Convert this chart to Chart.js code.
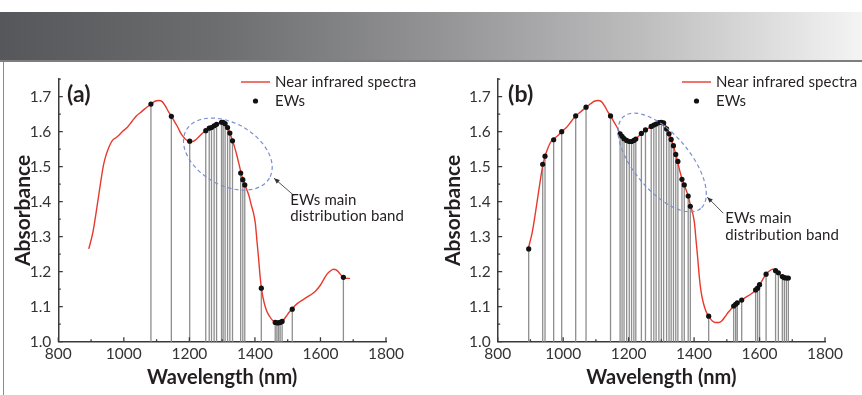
<!DOCTYPE html>
<html>
<head>
<meta charset="utf-8">
<script src="https://cdn.jsdelivr.net/npm/chart.js@4.4.1/dist/chart.umd.min.js"></script>
<style>
  html, body { margin: 0; padding: 0; background: #fff; width: 862px; height: 395px; overflow: hidden; }
  #band { position: absolute; left: 0; top: 12px; width: 862px; height: 48px;
          background: linear-gradient(to right, #56575a 0%, #6c6d6f 25%, #929294 50%, #bebebf 75%, #f4f4f4 100%);
          border-bottom: 2px solid #7e7e80; }
  #frame { position: absolute; left: 3px; top: 62px; width: 1px; height: 333px; background: #8a8a8a; }
  .panel { position: absolute; top: 62px; height: 333px; }
</style>
</head>
<body>
<div id="band"></div>
<div id="frame"></div>
<div class="panel" style="left:0;width:430px"><canvas id="chartA" width="430" height="333"></canvas></div>
<div class="panel" style="left:430px;width:432px"><canvas id="chartB" width="432" height="333"></canvas></div>

<script>
// Mean near infrared spectrum (wavelength in nm, absorbance)
const wavelength = [893, 905, 918, 930, 938, 945, 952, 960, 966, 975, 985, 995, 1010, 1025, 1038, 1055, 1070,
  1083, 1095, 1107, 1117, 1127, 1137, 1145, 1155, 1165, 1174, 1182, 1190, 1200, 1210, 1218, 1226, 1239,
  1252, 1268, 1283, 1293, 1300, 1307, 1313, 1319, 1326, 1332, 1338, 1345, 1352, 1358, 1364, 1370, 1377,
  1383, 1389, 1395, 1401, 1406, 1411, 1416, 1421, 1428, 1436, 1445, 1455, 1466, 1476, 1485, 1495, 1505,
  1514, 1522, 1532, 1545, 1560, 1575, 1588, 1600, 1610, 1620, 1630, 1640, 1648, 1656, 1664, 1672, 1680, 1690];
const absorbance = [1.265, 1.31, 1.385, 1.46, 1.505, 1.531, 1.55, 1.567, 1.576, 1.582, 1.59, 1.600, 1.612, 1.630,
  1.645, 1.658, 1.670, 1.679, 1.687, 1.689, 1.686, 1.673, 1.656, 1.645, 1.628, 1.612, 1.595, 1.585, 1.577,
  1.572, 1.572, 1.576, 1.583, 1.595, 1.605, 1.614, 1.621, 1.626, 1.628, 1.625, 1.618, 1.607, 1.590, 1.573,
  1.556, 1.532, 1.505, 1.482, 1.462, 1.447, 1.43, 1.413, 1.39, 1.37, 1.34, 1.29, 1.24, 1.185, 1.145, 1.112,
  1.088, 1.072, 1.060, 1.055, 1.055, 1.060, 1.072, 1.085, 1.094, 1.103, 1.111, 1.119, 1.128, 1.137, 1.148,
  1.162, 1.178, 1.193, 1.202, 1.207, 1.205, 1.198, 1.189, 1.183, 1.181, 1.181];

// Effective wavelengths selected by method (a)
const ewWavelengthA = [1082.7, 1145, 1201, 1250, 1260.5, 1267.5, 1275.5, 1283, 1298, 1303, 1309, 1316.5, 1323.5,
  1331.6, 1356.5, 1363, 1369, 1419.5, 1462, 1467, 1472, 1477, 1483, 1514, 1670];
const ewAbsorbanceA = [1.679, 1.644, 1.573, 1.603, 1.610, 1.612, 1.617, 1.621, 1.627, 1.627, 1.623, 1.612, 1.596,
  1.574, 1.482, 1.463, 1.448, 1.153, 1.055, 1.054, 1.054, 1.055, 1.058, 1.093, 1.184];

// Effective wavelengths selected by method (b)
const ewWavelengthB = [894.7, 937.5, 944.6, 971, 995.5, 1038.3, 1069.9, 1144.7, 1174, 1180, 1186, 1194, 1202, 1209,
  1216, 1222, 1239, 1251.5, 1269, 1277, 1284, 1292.5, 1300, 1307, 1316, 1323.5, 1330, 1337, 1344, 1350.5,
  1363, 1370, 1382, 1388.5, 1444.6, 1521, 1527, 1532, 1545.5, 1588, 1594, 1600, 1620, 1649, 1657.5, 1669.6,
  1675.8, 1682, 1688];
const ewAbsorbanceB = [1.265, 1.507, 1.530, 1.577, 1.600, 1.645, 1.670, 1.645, 1.594, 1.587, 1.580, 1.575, 1.572,
  1.572, 1.575, 1.579, 1.595, 1.605, 1.615, 1.619, 1.622, 1.626, 1.627, 1.625, 1.608, 1.594, 1.578, 1.560,
  1.535, 1.515, 1.464, 1.448, 1.416, 1.387, 1.073, 1.102, 1.107, 1.111, 1.119, 1.148, 1.153, 1.163, 1.193,
  1.203, 1.197, 1.186, 1.183, 1.182, 1.182];

// Axis ticks
const xTickValues = [800, 1000, 1200, 1400, 1600, 1800];
const xMinorTicks = [900, 1100, 1300, 1500, 1700];
const yTickValues = [1.0, 1.1, 1.2, 1.3, 1.4, 1.5, 1.6, 1.7];
const yMinorTicks = [1.05, 1.15, 1.25, 1.35, 1.45, 1.55, 1.65, 1.75];

const FONT = 'Lato, "Open Sans", "DejaVu Sans", sans-serif';
const INK = '#231f20';
const AXIS = '#3a3a3a';
const RED = '#e8392d';

function points(xs, ys) { return xs.map((v, i) => ({ x: v, y: ys[i] })); }

// Draws stems, inward ticks, the band ellipse, note, legend and panel letter
const decorations = {
  id: 'decorations',
  beforeDatasetsDraw(chart) {
    const { ctx, scales: { x, y } } = chart;
    const base = y.getPixelForValue(y.min);
    ctx.save();
    ctx.strokeStyle = '#8e8e8e';
    ctx.lineWidth = 1.3;
    ctx.beginPath();
    chart.data.datasets[1].data.forEach(p => {
      const px = x.getPixelForValue(p.x);
      ctx.moveTo(px, y.getPixelForValue(p.y));
      ctx.lineTo(px, base);
    });
    ctx.stroke();
    ctx.restore();
  },
  afterDraw(chart, args, o) {
    const { ctx, scales: { x, y } } = chart;
    const x0 = x.getPixelForValue(x.min), y0 = y.getPixelForValue(y.min);
    ctx.save();
    // inward tick marks
    ctx.strokeStyle = AXIS;
    ctx.lineWidth = 1.3;
    ctx.beginPath();
    xTickValues.forEach(v => { const p = x.getPixelForValue(v); ctx.moveTo(p, y0); ctx.lineTo(p, y0 - 4.5); });
    xMinorTicks.forEach(v => { const p = x.getPixelForValue(v); ctx.moveTo(p, y0); ctx.lineTo(p, y0 - 2.5); });
    yTickValues.forEach(v => { const p = y.getPixelForValue(v); ctx.moveTo(x0, p); ctx.lineTo(x0 + 4.5, p); });
    yMinorTicks.forEach(v => { const p = y.getPixelForValue(v); ctx.moveTo(x0, p); ctx.lineTo(x0 + 2.5, p); });
    ctx.stroke();

    // dashed ellipse around the main band
    const e = o.ellipse;
    ctx.strokeStyle = '#7b8fd0';
    ctx.lineWidth = 1.2;
    ctx.setLineDash([4, 3]);
    ctx.beginPath();
    ctx.ellipse(x.getPixelForValue(e.wl), y.getPixelForValue(e.a), e.rx, e.ry, e.rot * Math.PI / 180, 0, Math.PI * 2);
    ctx.stroke();
    ctx.setLineDash([]);

    // arrow to the ellipse
    const hx = x.getPixelForValue(o.arrow.head[0]), hy = y.getPixelForValue(o.arrow.head[1]);
    const tx = x.getPixelForValue(o.arrow.tail[0]), ty = y.getPixelForValue(o.arrow.tail[1]);
    ctx.strokeStyle = '#555';
    ctx.lineWidth = 1;
    ctx.beginPath(); ctx.moveTo(tx, ty); ctx.lineTo(hx, hy); ctx.stroke();
    const ang = Math.atan2(hy - ty, hx - tx);
    ctx.fillStyle = '#333';
    ctx.beginPath();
    ctx.moveTo(hx, hy);
    ctx.lineTo(hx - 6 * Math.cos(ang - 0.4), hy - 6 * Math.sin(ang - 0.4));
    ctx.lineTo(hx - 6 * Math.cos(ang + 0.4), hy - 6 * Math.sin(ang + 0.4));
    ctx.closePath(); ctx.fill();

    // note text (plain glyphs, no "ti" ligature)
    ctx.fillStyle = INK;
    ctx.font = '15px ' + FONT;
    ctx.textRendering = 'optimizeSpeed';
    ctx.letterSpacing = '0.1px';
    ctx.textAlign = 'left';
    ctx.textBaseline = 'middle';
    ctx.fillText('EWs main', tx + o.note.dx, ty + o.note.dy);
    ctx.fillText('distribution band', tx + o.note.dx, ty + o.note.dy + 16.5);

    // legend
    const L = o.legend;
    ctx.strokeStyle = RED; ctx.lineWidth = 1.4;
    ctx.beginPath(); ctx.moveTo(L.x, L.y); ctx.lineTo(L.x + 29, L.y); ctx.stroke();
    ctx.fillStyle = '#111';
    ctx.beginPath(); ctx.arc(L.x + 14.5, L.y + 19, 2.6, 0, Math.PI * 2); ctx.fill();
    ctx.fillStyle = INK;
    ctx.fillText('Near infrared spectra', L.x + 34, L.y);
    ctx.fillText('EWs', L.x + 34, L.y + 19);

    // panel letter
    ctx.font = 'bold 23px ' + FONT;
    ctx.fillText(o.letter, o.letterX, 33);
    ctx.restore();
  }
};

function makeChart(id, ewX, ewY, cfg) {
  return new Chart(document.getElementById(id), {
    type: 'scatter',
    data: {
      datasets: [
        { label: 'Near infrared spectra', data: points(wavelength, absorbance), showLine: true,
          borderColor: RED, borderWidth: 1.4, pointRadius: 0, cubicInterpolationMode: 'monotone', order: 2 },
        { label: 'EWs', data: points(ewX, ewY), pointRadius: 2.6, pointBackgroundColor: '#111',
          pointBorderWidth: 0, order: 1 }
      ]
    },
    options: {
      responsive: false, animation: false, events: [], devicePixelRatio: 1,
      layout: { padding: { left: 0, right: cfg.rightPad, top: 17.2, bottom: 0 } },
      plugins: { legend: { display: false }, tooltip: { enabled: false }, decorations: cfg.deco },
      scales: {
        x: {
          type: 'linear', min: 800, max: 1800,
          afterBuildTicks: s => { s.ticks = xTickValues.map(v => ({ value: v })); },
          afterFit: s => { s.height = 53.3; },
          grid: { display: false, drawTicks: false },
          border: { display: true, color: AXIS, width: 1.5 },
          ticks: { padding: 3, color: '#333', font: { family: FONT, size: 15.5 }, maxRotation: 0,
                   callback: v => String(v) },
          title: { display: true, text: 'Wavelength (nm)', color: INK,
                   font: { family: FONT, size: 20, weight: 'bold' }, padding: { top: 0, bottom: 5.5 } }
        },
        y: {
          type: 'linear', min: 1.0, max: 1.75,
          afterBuildTicks: s => { s.ticks = yTickValues.map(v => ({ value: v })); },
          afterFit: s => { s.width = cfg.yWidth; },
          grid: { display: false, drawTicks: false },
          border: { display: true, color: AXIS, width: 1.5 },
          ticks: { padding: 7, color: '#333', font: { family: FONT, size: 15.5 }, callback: v => v.toFixed(1) },
          title: { display: true, text: 'Absorbance', color: INK,
                   font: { family: FONT, size: 21, weight: 'bold' }, padding: { top: 10.5, bottom: 0 } }
        }
      }
    },
    plugins: [decorations]
  });
}

makeChart('chartA', ewWavelengthA, ewAbsorbanceA, {
  yWidth: 58.3, rightPad: 44,
  deco: {
    ellipse: { wl: 1317.4, a: 1.536, rx: 48, ry: 31, rot: 30 },
    arrow: { head: [1458.5, 1.467], tail: [1520, 1.417] },
    note: { dx: -4, dy: 4 },
    legend: { x: 241, y: 20 },
    letter: '(a)', letterX: 67
  }
});

makeChart('chartB', ewWavelengthB, ewAbsorbanceB, {
  yWidth: 67.7, rightPad: 37,
  deco: {
    ellipse: { wl: 1302.6, a: 1.512, rx: 60, ry: 28, rot: 50 },
    arrow: { head: [1440.4, 1.413], tail: [1489.3, 1.367] },
    note: { dx: 2, dy: 5 },
    legend: { x: 252, y: 20 },
    letter: '(b)', letterX: 78
  }
});
</script>
</body>
</html>
